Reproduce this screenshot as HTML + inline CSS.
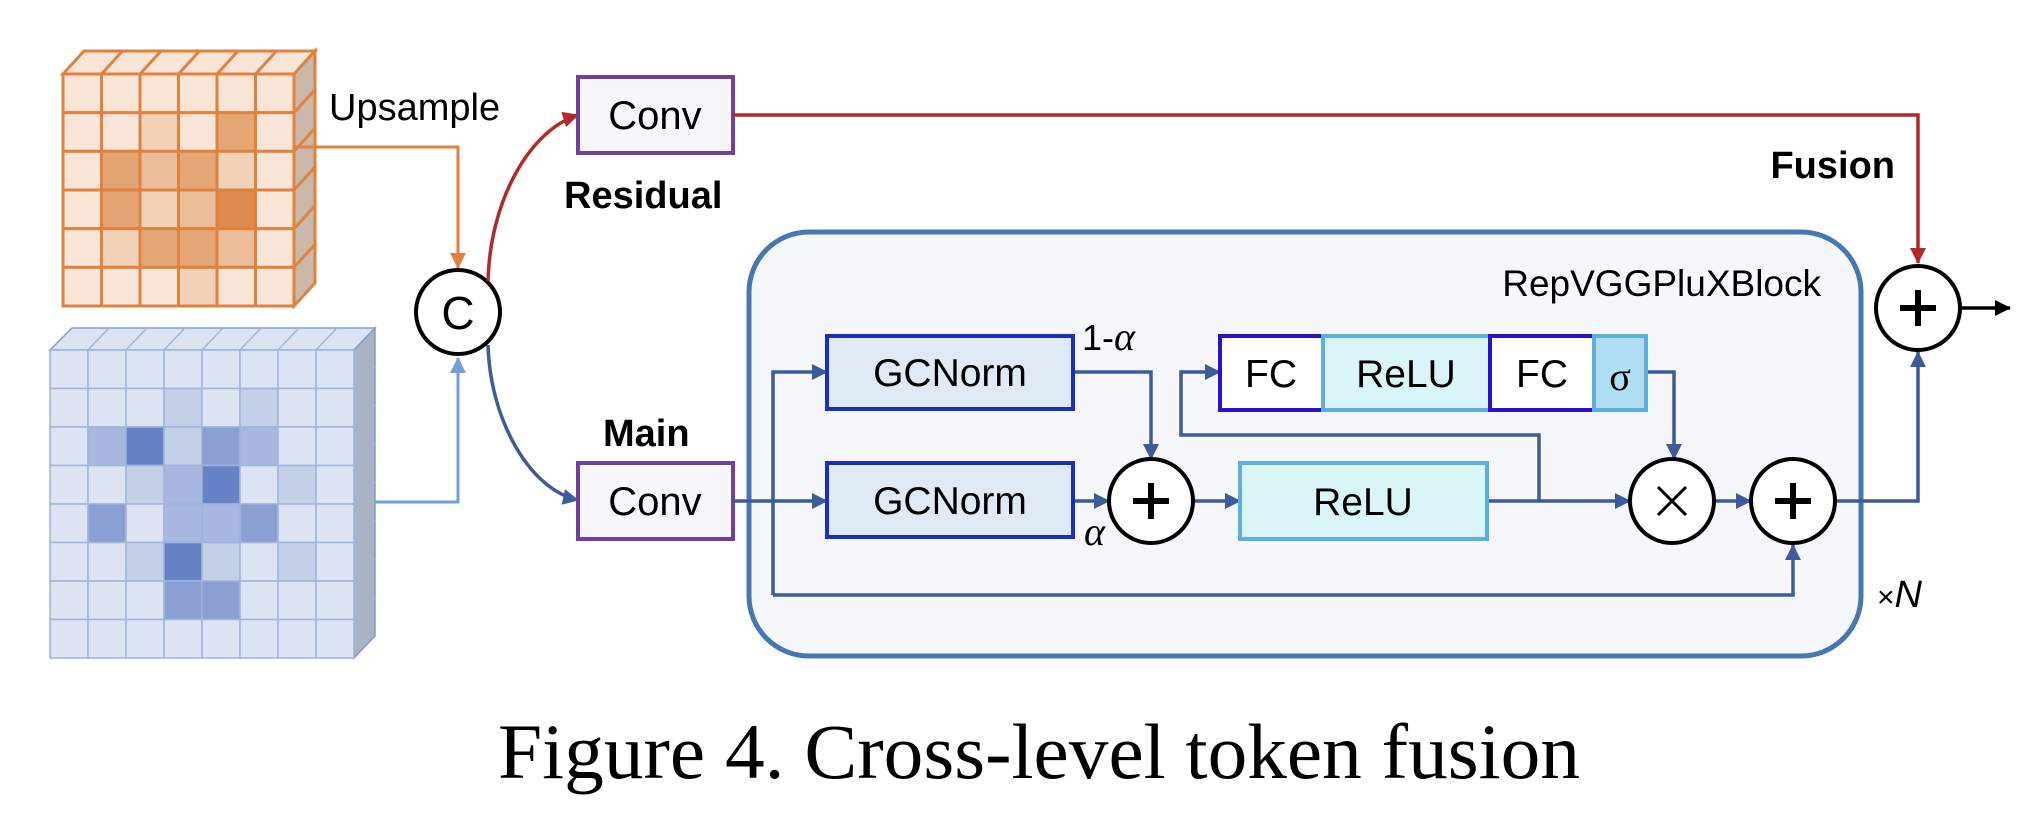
<!DOCTYPE html>
<html><head><meta charset="utf-8"><style>
html,body{margin:0;padding:0;background:#fff;width:2028px;height:822px;overflow:hidden}
svg{display:block}
text{font-family:"Liberation Sans",sans-serif;fill:#000}
text.serif,tspan.serif{font-family:"Liberation Serif",serif}
</style></head><body>
<svg width="2028" height="822" viewBox="0 0 2028 822" xmlns="http://www.w3.org/2000/svg">
<defs>
<marker id="ar" markerWidth="18" markerHeight="18" refX="15" refY="8" orient="auto" markerUnits="userSpaceOnUse"><path d="M0,0 L16,8 L0,16 z" fill="#b5282a"/></marker>
<marker id="ao" markerWidth="18" markerHeight="18" refX="15" refY="8" orient="auto" markerUnits="userSpaceOnUse"><path d="M0,0 L16,8 L0,16 z" fill="#e0823e"/></marker>
<marker id="al" markerWidth="18" markerHeight="18" refX="15" refY="8" orient="auto" markerUnits="userSpaceOnUse"><path d="M0,0 L16,8 L0,16 z" fill="#6fa0d8"/></marker>
<marker id="abl" markerWidth="18" markerHeight="18" refX="15" refY="8" orient="auto" markerUnits="userSpaceOnUse"><path d="M0,0 L16,8 L0,16 z" fill="#3d5a9a"/></marker>
<marker id="ak" markerWidth="18" markerHeight="18" refX="15" refY="8" orient="auto" markerUnits="userSpaceOnUse"><path d="M0,0 L16,8 L0,16 z" fill="#000"/></marker>
</defs>

<g stroke="#e0823e" stroke-width="3">
<polygon points="63,74 84,51 315,51 294,74" fill="#f8e5d7"/>
<polygon points="294,74 315,51 315,283 294,306" fill="#c9b9aa"/>
</g>
<g stroke="#7f9ccc" stroke-width="1.5">
<polygon points="50,350 72,328 375,328 354,350" fill="#dce4f3"/>
<polygon points="354,350 375,328 375,636 354,658" fill="#a9b3c4"/>
</g>

<polyline points="294,147 458,147 458,268" fill="none" stroke="#e0823e" stroke-width="3" marker-end="url(#ao)"/>
<polyline points="375,502 458,502 458,358" fill="none" stroke="#6fa0d8" stroke-width="3" marker-end="url(#al)"/>
<circle cx="458" cy="312" r="42" fill="#fff" stroke="#000" stroke-width="4"/>
<text x="458" y="329" font-size="46" text-anchor="middle">C</text>

<path d="M488,281 C490,200 530,130 578,115" fill="none" stroke="#b5282a" stroke-width="3.5" marker-end="url(#ar)"/>
<path d="M488,345 C490,420 530,490 578,500" fill="none" stroke="#3d5a9a" stroke-width="3.5" marker-end="url(#abl)"/>

<text x="329" y="120" font-size="38">Upsample</text>
<text x="564" y="208" font-size="38" font-weight="bold">Residual</text>
<text x="603" y="446" font-size="38" font-weight="bold">Main</text>

<rect x="578" y="77" width="155" height="76" fill="#f8f6fd" stroke="#7040a0" stroke-width="4"/>
<text x="655" y="129" font-size="40" text-anchor="middle">Conv</text>

<polyline points="733,115 1918,115 1918,263" fill="none" stroke="#b5282a" stroke-width="3.5" marker-end="url(#ar)"/>
<text x="1895" y="178" font-size="38" font-weight="bold" text-anchor="end">Fusion</text>

<rect x="749" y="232" width="1112" height="424" rx="60" fill="#f5f7fb" stroke="#4577b5" stroke-width="5"/>
<text x="1821" y="296" font-size="37" text-anchor="end">RepVGGPluXBlock</text>

<rect x="578" y="463" width="155" height="76" fill="#f8f6fd" stroke="#7040a0" stroke-width="4"/>
<text x="655" y="515" font-size="40" text-anchor="middle">Conv</text>

<g fill="none" stroke="#3d5a9a" stroke-width="3.5">
<line x1="733" y1="501" x2="827" y2="501" marker-end="url(#abl)"/>
<polyline points="773,595 773,372 827,372" marker-end="url(#abl)"/>
<polyline points="773,595 1793,595 1793,545" marker-end="url(#abl)"/>
<polyline points="1073,372 1151,372 1151,459" marker-end="url(#abl)"/>
<line x1="1073" y1="501" x2="1109" y2="501" marker-end="url(#abl)"/>
<line x1="1193" y1="501" x2="1240" y2="501" marker-end="url(#abl)"/>
<line x1="1487" y1="501" x2="1630" y2="501" marker-end="url(#abl)"/>
<polyline points="1539,501 1539,435 1181,435 1181,372 1220,372" marker-end="url(#abl)"/>
<polyline points="1646,372 1674,372 1674,459" marker-end="url(#abl)"/>
<line x1="1714" y1="501" x2="1751" y2="501" marker-end="url(#abl)"/>
<polyline points="1835,501 1918,501 1918,352" marker-end="url(#abl)"/>
</g>
<line x1="1960" y1="308" x2="2010" y2="308" stroke="#000" stroke-width="3.5" marker-end="url(#ak)"/>

<rect x="827" y="336" width="246" height="73" fill="#e0eaf7" stroke="#1a2ec0" stroke-width="4"/>
<text x="950" y="386" font-size="39" text-anchor="middle">GCNorm</text>
<rect x="827" y="463" width="246" height="74" fill="#e0eaf7" stroke="#1a2ec0" stroke-width="4"/>
<text x="950" y="514" font-size="39" text-anchor="middle">GCNorm</text>

<text x="1082" y="350" font-size="36">1-<tspan class="serif" font-style="italic" font-size="40">α</tspan></text>
<text x="1084" y="545" font-size="40" class="serif" font-style="italic">α</text>

<rect x="1240" y="463" width="247" height="76" fill="#d9f5f7" stroke="#5bb0e0" stroke-width="4"/>
<text x="1363" y="515" font-size="39" text-anchor="middle">ReLU</text>

<rect x="1220" y="336" width="103" height="74" fill="#fff" stroke="#2a10d0" stroke-width="4"/>
<text x="1271" y="387" font-size="39" text-anchor="middle">FC</text>
<rect x="1323" y="336" width="167" height="74" fill="#d9f5f7" stroke="#5bb0e0" stroke-width="4"/>
<text x="1406" y="387" font-size="39" text-anchor="middle">ReLU</text>
<rect x="1490" y="336" width="104" height="74" fill="#fff" stroke="#2a10d0" stroke-width="4"/>
<text x="1542" y="387" font-size="39" text-anchor="middle">FC</text>
<rect x="1594" y="336" width="52" height="74" fill="#b0def2" stroke="#5bb0e0" stroke-width="4"/>
<text x="1620" y="390" font-size="40" text-anchor="middle" class="serif">σ</text>

<g fill="#fff" stroke="#000" stroke-width="4">
<circle cx="1151" cy="501" r="42"/>
<circle cx="1672" cy="501" r="42"/>
<circle cx="1793" cy="501" r="42"/>
<circle cx="1918" cy="308" r="42"/>
</g>
<g stroke="#000" stroke-width="6">
<path d="M1133,501 h36 M1151,483 v36"/>
<path d="M1775,501 h36 M1793,483 v36"/>
<path d="M1900,308 h36 M1918,290 v36"/>
</g>
<path d="M1658,487 l28,28 M1686,487 l-28,28" stroke="#000" stroke-width="3"/>

<text x="1877" y="607" font-size="30">×<tspan font-size="38" font-style="italic">N</tspan></text>

<text x="498" y="778" font-size="78" class="serif" textLength="1082" lengthAdjust="spacingAndGlyphs">Figure 4. Cross-level token fusion</text>

<g stroke="#e0823e" stroke-width="3">
<rect x="63" y="74" width="38.5" height="38.7" fill="#f8e5d7"/><rect x="101.5" y="74" width="38.5" height="38.7" fill="#f8e5d7"/><rect x="140" y="74" width="38.5" height="38.7" fill="#f8e5d7"/><rect x="178.5" y="74" width="38.5" height="38.7" fill="#f8e5d7"/><rect x="217" y="74" width="38.5" height="38.7" fill="#f8e5d7"/><rect x="255.5" y="74" width="38.5" height="38.7" fill="#f8e5d7"/>
<rect x="63" y="112.7" width="38.5" height="38.7" fill="#f8e5d7"/><rect x="101.5" y="112.7" width="38.5" height="38.7" fill="#f8e5d7"/><rect x="140" y="112.7" width="38.5" height="38.7" fill="#f1d2b8"/><rect x="178.5" y="112.7" width="38.5" height="38.7" fill="#f8e5d7"/><rect x="217" y="112.7" width="38.5" height="38.7" fill="#e5a676"/><rect x="255.5" y="112.7" width="38.5" height="38.7" fill="#f8e5d7"/>
<rect x="63" y="151.3" width="38.5" height="38.7" fill="#f8e5d7"/><rect x="101.5" y="151.3" width="38.5" height="38.7" fill="#e3a473"/><rect x="140" y="151.3" width="38.5" height="38.7" fill="#ebbd98"/><rect x="178.5" y="151.3" width="38.5" height="38.7" fill="#e5a676"/><rect x="217" y="151.3" width="38.5" height="38.7" fill="#f1d2b8"/><rect x="255.5" y="151.3" width="38.5" height="38.7" fill="#f8e5d7"/>
<rect x="63" y="190" width="38.5" height="38.7" fill="#f8e5d7"/><rect x="101.5" y="190" width="38.5" height="38.7" fill="#e3a473"/><rect x="140" y="190" width="38.5" height="38.7" fill="#f1d2b8"/><rect x="178.5" y="190" width="38.5" height="38.7" fill="#ebbd98"/><rect x="217" y="190" width="38.5" height="38.7" fill="#df8a4f"/><rect x="255.5" y="190" width="38.5" height="38.7" fill="#f8e5d7"/>
<rect x="63" y="228.7" width="38.5" height="38.7" fill="#f8e5d7"/><rect x="101.5" y="228.7" width="38.5" height="38.7" fill="#f1d2b8"/><rect x="140" y="228.7" width="38.5" height="38.7" fill="#e5a676"/><rect x="178.5" y="228.7" width="38.5" height="38.7" fill="#e5a676"/><rect x="217" y="228.7" width="38.5" height="38.7" fill="#ebbd98"/><rect x="255.5" y="228.7" width="38.5" height="38.7" fill="#f8e5d7"/>
<rect x="63" y="267.3" width="38.5" height="38.7" fill="#f8e5d7"/><rect x="101.5" y="267.3" width="38.5" height="38.7" fill="#f8e5d7"/><rect x="140" y="267.3" width="38.5" height="38.7" fill="#f8e5d7"/><rect x="178.5" y="267.3" width="38.5" height="38.7" fill="#f1d2b8"/><rect x="217" y="267.3" width="38.5" height="38.7" fill="#f8e5d7"/><rect x="255.5" y="267.3" width="38.5" height="38.7" fill="#f8e5d7"/>
<path d="M101.5,74 l21,-23 M140,74 l21,-23 M178.5,74 l21,-23 M217,74 l21,-23 M255.5,74 l21,-23 M294,112.7 l21,-23 M294,151.3 l21,-23 M294,190 l21,-23 M294,228.7 l21,-23 M294,267.3 l21,-23" fill="none"/>
</g>
<g stroke="#9fb4dc" stroke-width="1.5">
<rect x="50" y="350" width="38" height="38.5" fill="#dce4f3"/><rect x="88" y="350" width="38" height="38.5" fill="#dce4f3"/><rect x="126" y="350" width="38" height="38.5" fill="#dce4f3"/><rect x="164" y="350" width="38" height="38.5" fill="#dce4f3"/><rect x="202" y="350" width="38" height="38.5" fill="#dce4f3"/><rect x="240" y="350" width="38" height="38.5" fill="#dce4f3"/><rect x="278" y="350" width="38" height="38.5" fill="#dce4f3"/><rect x="316" y="350" width="38" height="38.5" fill="#dce4f3"/>
<rect x="50" y="388.5" width="38" height="38.5" fill="#dce4f3"/><rect x="88" y="388.5" width="38" height="38.5" fill="#dce4f3"/><rect x="126" y="388.5" width="38" height="38.5" fill="#dce4f3"/><rect x="164" y="388.5" width="38" height="38.5" fill="#c4cfe8"/><rect x="202" y="388.5" width="38" height="38.5" fill="#dce4f3"/><rect x="240" y="388.5" width="38" height="38.5" fill="#c4cfe8"/><rect x="278" y="388.5" width="38" height="38.5" fill="#dce4f3"/><rect x="316" y="388.5" width="38" height="38.5" fill="#dce4f3"/>
<rect x="50" y="427" width="38" height="38.5" fill="#dce4f3"/><rect x="88" y="427" width="38" height="38.5" fill="#a7b7df"/><rect x="126" y="427" width="38" height="38.5" fill="#6583c6"/><rect x="164" y="427" width="38" height="38.5" fill="#c4cfe8"/><rect x="202" y="427" width="38" height="38.5" fill="#8aa0d3"/><rect x="240" y="427" width="38" height="38.5" fill="#a7b7df"/><rect x="278" y="427" width="38" height="38.5" fill="#dce4f3"/><rect x="316" y="427" width="38" height="38.5" fill="#dce4f3"/>
<rect x="50" y="465.5" width="38" height="38.5" fill="#dce4f3"/><rect x="88" y="465.5" width="38" height="38.5" fill="#dce4f3"/><rect x="126" y="465.5" width="38" height="38.5" fill="#c4cfe8"/><rect x="164" y="465.5" width="38" height="38.5" fill="#a7b7df"/><rect x="202" y="465.5" width="38" height="38.5" fill="#6583c6"/><rect x="240" y="465.5" width="38" height="38.5" fill="#dce4f3"/><rect x="278" y="465.5" width="38" height="38.5" fill="#c4cfe8"/><rect x="316" y="465.5" width="38" height="38.5" fill="#dce4f3"/>
<rect x="50" y="504" width="38" height="38.5" fill="#dce4f3"/><rect x="88" y="504" width="38" height="38.5" fill="#8aa0d3"/><rect x="126" y="504" width="38" height="38.5" fill="#dce4f3"/><rect x="164" y="504" width="38" height="38.5" fill="#a7b7df"/><rect x="202" y="504" width="38" height="38.5" fill="#a7b7df"/><rect x="240" y="504" width="38" height="38.5" fill="#8aa0d3"/><rect x="278" y="504" width="38" height="38.5" fill="#dce4f3"/><rect x="316" y="504" width="38" height="38.5" fill="#dce4f3"/>
<rect x="50" y="542.5" width="38" height="38.5" fill="#dce4f3"/><rect x="88" y="542.5" width="38" height="38.5" fill="#dce4f3"/><rect x="126" y="542.5" width="38" height="38.5" fill="#c4cfe8"/><rect x="164" y="542.5" width="38" height="38.5" fill="#6583c6"/><rect x="202" y="542.5" width="38" height="38.5" fill="#c4cfe8"/><rect x="240" y="542.5" width="38" height="38.5" fill="#dce4f3"/><rect x="278" y="542.5" width="38" height="38.5" fill="#c4cfe8"/><rect x="316" y="542.5" width="38" height="38.5" fill="#dce4f3"/>
<rect x="50" y="581" width="38" height="38.5" fill="#dce4f3"/><rect x="88" y="581" width="38" height="38.5" fill="#dce4f3"/><rect x="126" y="581" width="38" height="38.5" fill="#dce4f3"/><rect x="164" y="581" width="38" height="38.5" fill="#8aa0d3"/><rect x="202" y="581" width="38" height="38.5" fill="#8aa0d3"/><rect x="240" y="581" width="38" height="38.5" fill="#dce4f3"/><rect x="278" y="581" width="38" height="38.5" fill="#dce4f3"/><rect x="316" y="581" width="38" height="38.5" fill="#dce4f3"/>
<rect x="50" y="619.5" width="38" height="38.5" fill="#dce4f3"/><rect x="88" y="619.5" width="38" height="38.5" fill="#dce4f3"/><rect x="126" y="619.5" width="38" height="38.5" fill="#dce4f3"/><rect x="164" y="619.5" width="38" height="38.5" fill="#dce4f3"/><rect x="202" y="619.5" width="38" height="38.5" fill="#dce4f3"/><rect x="240" y="619.5" width="38" height="38.5" fill="#dce4f3"/><rect x="278" y="619.5" width="38" height="38.5" fill="#dce4f3"/><rect x="316" y="619.5" width="38" height="38.5" fill="#dce4f3"/>
<path d="M88,350 l21,-22 M126,350 l21,-22 M164,350 l21,-22 M202,350 l21,-22 M240,350 l21,-22 M278,350 l21,-22 M316,350 l21,-22 M354,388.5 l21,-22 M354,427 l21,-22 M354,465.5 l21,-22 M354,504 l21,-22 M354,542.5 l21,-22 M354,581 l21,-22 M354,619.5 l21,-22" fill="none"/>
</g>
</svg>
</body></html>
